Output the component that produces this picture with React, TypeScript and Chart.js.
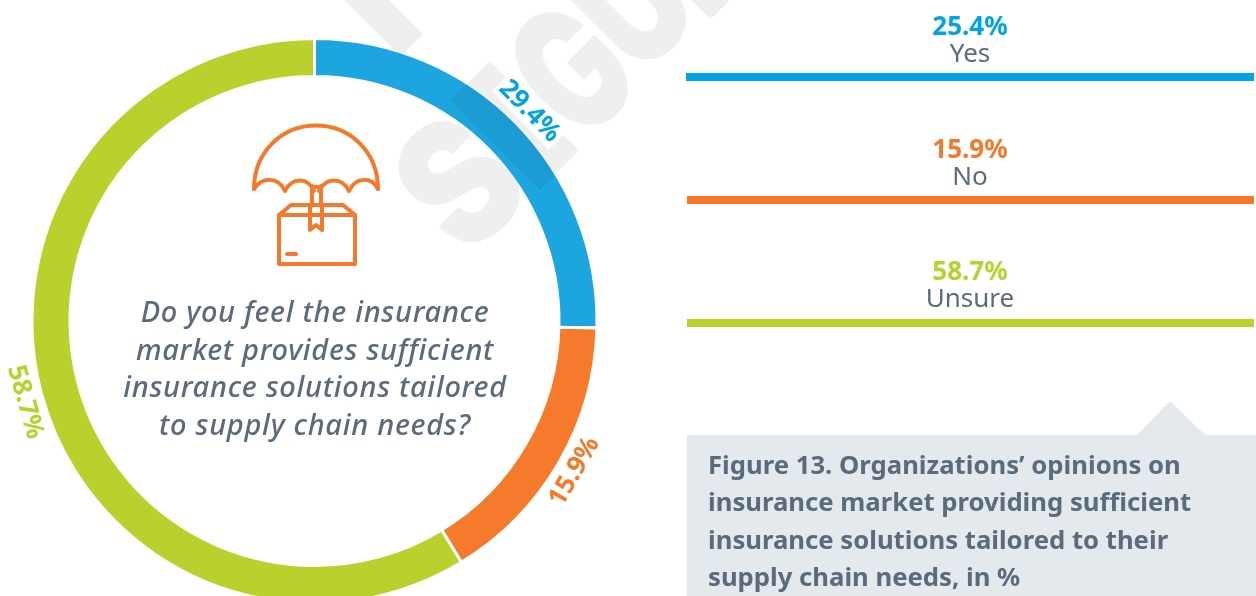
import React, { useEffect, useRef } from "react";
import { Chart, registerables } from "chart.js";

Chart.register(...registerables);

const categories = ["Yes", "No", "Unsure"];
const seriesValues = [25.4, 15.9, 58.7];
const ringLabels = ["29.4%", "15.9%", "58.7%"];
const legendLabels = ["25.4%", "15.9%", "58.7%"];
const ringColors = ["#1da5e0", "#f57a2b", "#b9d02d"];
const keyColors = ["#00a4e0", "#f5792a", "#b9d02d"];
const questionLines = [
  "Do you feel the insurance",
  "market provides sufficient",
  "insurance solutions tailored",
  "to supply chain needs?",
];
const captionLines = [
  "Figure 13. Organizations’ opinions on",
  "insurance market providing sufficient",
  "insurance solutions tailored to their",
  "supply chain needs, in %",
];
const FONT = '"Noto Sans", sans-serif';
const TEXT = "#5a6c7c";

// watermark glyphs in a frame rotated by -45deg: [char, left, right, top, baseline]
const watermark: [string, number, number, number, number][] = [
  ["S", 150, 240, 388, 517],
  ["I", 247, 303, 389, 516],
  ["G", 312, 396, 388, 517],
  ["U", 403, 483, 389, 510],
  ["E", 489, 570, 389, 516],
  ["I", 243, 275, 196, 323],
];

const drawGlyph = (ctx: CanvasRenderingContext2D, g: [string, number, number, number, number]) => {
  const [ch, u0, u1, v0, v1] = g;
  ctx.save();
  ctx.font = '900 200px "Inter", sans-serif';
  ctx.textAlign = "left";
  ctx.textBaseline = "alphabetic";
  const m = ctx.measureText(ch);
  const w = m.actualBoundingBoxRight + m.actualBoundingBoxLeft;
  const h = m.actualBoundingBoxAscent + m.actualBoundingBoxDescent;
  ctx.translate(u0, v0);
  ctx.scale((u1 - u0) / w, (v1 - v0) / h);
  ctx.fillText(ch, m.actualBoundingBoxLeft, m.actualBoundingBoxAscent);
  ctx.restore();
};

const decorPlugin = {
  id: "decor",
  beforeDraw(chart: any) {
    const { ctx, width, height } = chart;
    ctx.save();
    ctx.fillStyle = "#ffffff";
    ctx.fillRect(0, 0, width, height);
    ctx.restore();
  },
  afterDraw(chart: any) {
    const { ctx } = chart;
    ctx.save();
    ctx.globalCompositeOperation = "multiply";
    ctx.fillStyle = "#efefef";
    ctx.rotate(-Math.PI / 4);
    watermark.forEach((g) => drawGlyph(ctx, g));
    ctx.restore();

    const arcs = chart.getDatasetMeta(0).data;
    arcs.forEach((arc: any, i: number) => {
      const p = arc.getProps(["x", "y", "startAngle", "endAngle", "outerRadius"], true);
      const mid = (p.startAngle + p.endAngle) / 2;
      const r = p.outerRadius + 18;
      const x = p.x + r * Math.cos(mid);
      const y = p.y + r * Math.sin(mid);
      let rot = mid + Math.PI / 2;
      while (rot > Math.PI / 2) rot -= Math.PI;
      while (rot < -Math.PI / 2) rot += Math.PI;
      ctx.save();
      ctx.translate(x, y);
      ctx.rotate(rot);
      ctx.font = `700 26px ${FONT}`;
      ctx.textAlign = "center";
      ctx.textBaseline = "middle";
      const w = ctx.measureText(ringLabels[i]).width;
      ctx.fillStyle = "#ffffff";
      ctx.fillRect(-w / 2 - 3, -13, w + 6, 26);
      ctx.fillStyle = keyColors[i];
      ctx.fillText(ringLabels[i], 0, 0);
      ctx.restore();
    });
  },
};

const pos = (left: number, top: number): React.CSSProperties => ({
  position: "absolute",
  left,
  top,
  whiteSpace: "nowrap",
});

const Icon = () => (
  <svg
    width={140}
    height={150}
    viewBox="245 118 140 150"
    style={{ position: "absolute", left: 245, top: 118 }}
    fill="none"
    stroke="#f5792a"
    strokeWidth={4}
    strokeLinecap="round"
    strokeLinejoin="round"
  >
    <path d="M254 189 C254 152 282 125.5 316 125.5 C350 125.5 378 152 378 189" />
    <path d="M254 189 C262 177 278 176 285 191 C292 177 308 177 314 191" />
    <path d="M319 191 C326 177 342 177 349 191 C356 176 372 177 378 189" />
    <path d="M279 215 L279 264 L355 264 L355 215 Z" />
    <path d="M279 215 L291 205 L343 205 L355 215" />
    <path d="M310 205 L310 230 L316 225 L322 230 L322 205" />
    <path d="M312 186 L312 205 M321 186 L321 205 M312 187 L321 187" />
    <path d="M310 215 L322 215" />
    <path d="M287 254 L296 254" />
  </svg>
);

export default function App() {
  const ref = useRef<HTMLCanvasElement>(null);
  useEffect(() => {
    if (!ref.current) return;
    const chart = new Chart(ref.current, {
      type: "doughnut",
      data: {
        labels: categories,
        datasets: [
          {
            data: seriesValues,
            backgroundColor: ringColors,
            borderColor: "#ffffff",
            borderWidth: 3,
          },
        ],
      },
      options: {
        responsive: false,
        animation: false,
        radius: 282.5,
        cutout: "86.55%",
        layout: { padding: { left: 0, right: 627, top: 0, bottom: 0 } },
        plugins: { legend: { display: false }, tooltip: { enabled: false } },
      },
      plugins: [decorPlugin],
    } as any);
    return () => chart.destroy();
  }, []);

  const barTops = [73, 196, 319];
  const pctTops = [8, 131, 253];
  const nameTops = [35, 158, 280];
  return (
    <div
      style={{
        position: "absolute",
        left: 0,
        top: 0,
        width: 1256,
        height: 596,
        overflow: "hidden",
        background: "#fff",
        fontFamily: FONT,
      }}
    >
      <canvas ref={ref} width={1256} height={642} style={{ position: "absolute", left: 0, top: 0 }} />
      <Icon />
      {questionLines.map((line, i) => (
        <div
          key={line}
          style={{
            position: "absolute",
            left: 14,
            width: 602,
            top: 292 + i * 37.7,
            lineHeight: "38px",
            textAlign: "center",
            fontStyle: "italic",
            fontWeight: 500,
            fontSize: 29,
            letterSpacing: 0.7,
            color: TEXT,
            whiteSpace: "nowrap",
          }}
        >
          {line}
        </div>
      ))}
      {categories.map((c, i) => (
        <React.Fragment key={c}>
          <div
            style={{
              position: "absolute",
              left: 770,
              width: 400,
              top: pctTops[i],
              lineHeight: "34px",
              textAlign: "center",
              fontSize: 26,
              fontWeight: 700,
              color: keyColors[i],
            }}
          >
            {legendLabels[i]}
          </div>
          <div
            style={{
              position: "absolute",
              left: 770,
              width: 400,
              top: nameTops[i],
              lineHeight: "34px",
              textAlign: "center",
              fontSize: 26,
              color: TEXT,
            }}
          >
            {c}
          </div>
          <div
            style={{
              position: "absolute",
              left: i === 0 ? 686 : 687,
              top: barTops[i],
              width: i === 0 ? 568 : 567,
              height: 8,
              background: keyColors[i],
            }}
          />
        </React.Fragment>
      ))}
      <svg width={1256} height={596} style={{ position: "absolute", left: 0, top: 0 }}>
        <path d="M687 435 L1137 435 L1170 401 L1205 435 L1256 435 L1256 596 L687 596 Z" fill="#e4e9ee" />
      </svg>
      {captionLines.map((line, i) => (
        <div
          key={line}
          style={{
            ...pos(708, 446 + i * 37.4),
            lineHeight: "38px",
            fontSize: 25.7,
            fontWeight: 700,
            color: TEXT,
          }}
        >
          {line}
        </div>
      ))}
    </div>
  );
}
